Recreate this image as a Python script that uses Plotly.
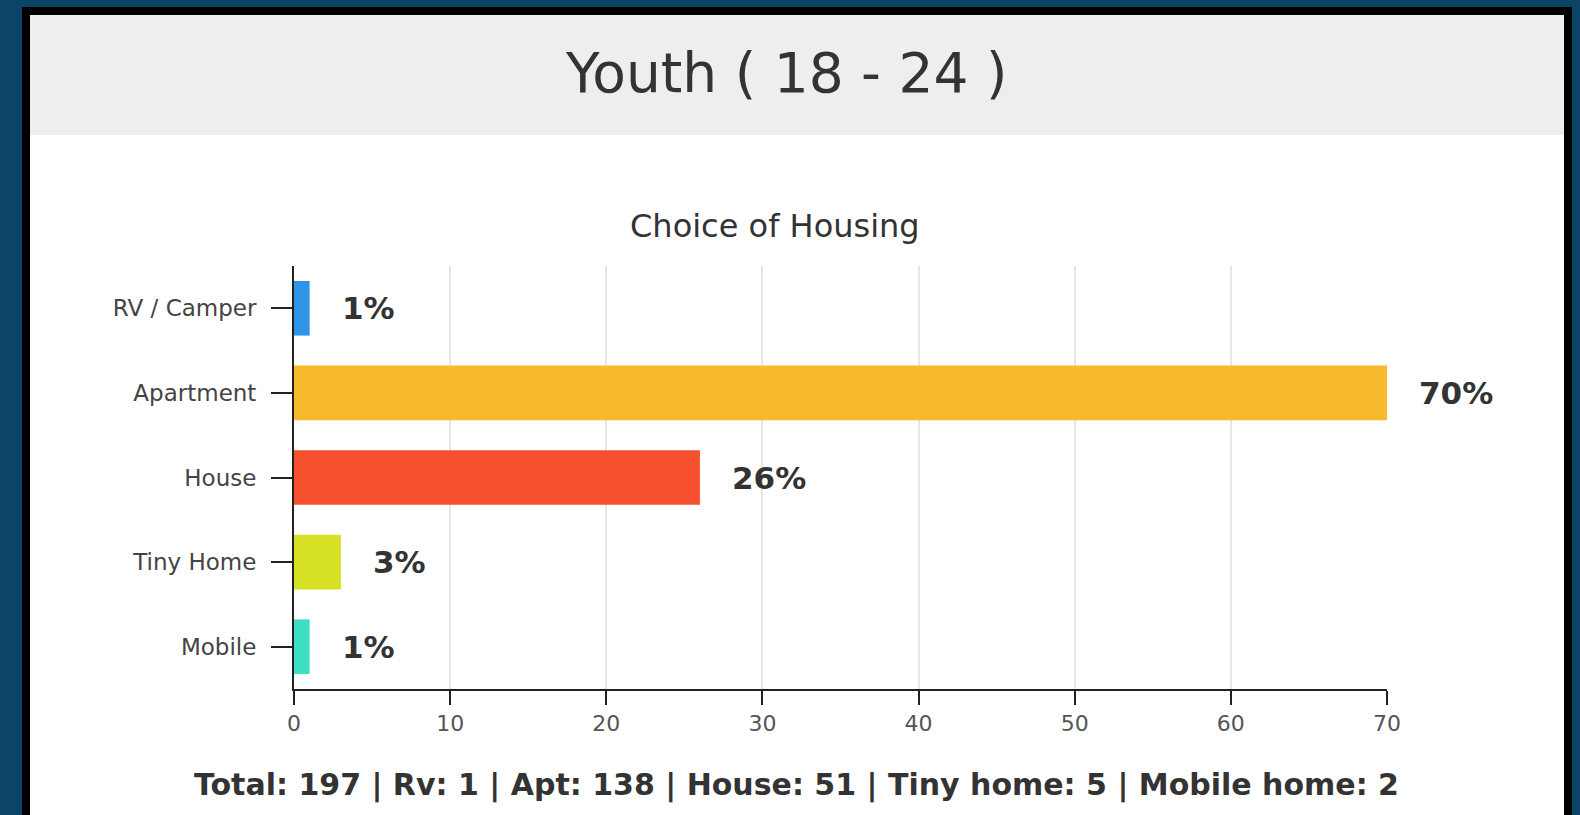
import plotly.graph_objects as go

# ---- data ----
categories = ["RV / Camper", "Apartment", "House", "Tiny Home", "Mobile"]
values = [1, 70, 26, 3, 1]
pct_labels = ["1%", "70%", "26%", "3%", "1%"]
bar_colors = ["#2f94e8", "#f6ba2c", "#f7502e", "#d5e122", "#3ddfc3"]
count_names = ["Total", "Rv", "Apt", "House", "Tiny home", "Mobile home"]
count_values = [197, 1, 138, 51, 5, 2]
x_ticks = [0, 10, 20, 30, 40, 50, 60, 70]

# ---- layout geometry (pixels) ----
W, H = 1580, 815
L, R, T, B = 294, 1387, 266, 689


def px(x):
    return (x - L) / (R - L)


def py(y):
    return (B - y) / (B - T)


fig = go.Figure()
fig.add_trace(go.Bar(
    y=categories, x=values, orientation="h",
    marker=dict(color=bar_colors, line=dict(width=0)),
    hoverinfo="skip", width=0.645,
))

annotations = []
for c, v, t in zip(categories, values, pct_labels):
    annotations.append(dict(
        x=v, y=c, xref="x", yref="y", text=t, showarrow=False,
        xanchor="left", yanchor="middle", xshift=30,
        font=dict(family="DejaVu Sans", size=31, color="#333333", weight="bold"),
    ))

annotations.append(dict(
    x=px(786), y=py(73), xref="paper", yref="paper", text="Youth ( 18 - 24 )",
    showarrow=False, xanchor="center", yanchor="middle",
    font=dict(family="DejaVu Sans", size=55, color="#333333"),
))
annotations.append(dict(
    x=px(775), y=py(226), xref="paper", yref="paper", text="Choice of Housing",
    showarrow=False, xanchor="center", yanchor="middle",
    font=dict(family="DejaVu Sans", size=32, color="#333333"),
))
bottom_text = " | ".join(f"{n}: {v}" for n, v in zip(count_names, count_values))
annotations.append(dict(
    x=px(796), y=py(785), xref="paper", yref="paper", text=bottom_text,
    showarrow=False, xanchor="center", yanchor="middle",
    font=dict(family="DejaVu Sans", size=30, color="#333333", weight="bold"),
))

shapes = [
    dict(type="rect", xref="paper", yref="paper", layer="below",
         x0=px(22), x1=px(1572), y0=py(840), y1=py(7),
         fillcolor="#000000", line=dict(width=0)),
    dict(type="rect", xref="paper", yref="paper", layer="below",
         x0=px(30), x1=px(1564), y0=py(840), y1=py(135),
         fillcolor="#ffffff", line=dict(width=0)),
    dict(type="rect", xref="paper", yref="paper", layer="below",
         x0=px(30), x1=px(1564), y0=py(135), y1=py(15),
         fillcolor="#eeeeee", line=dict(width=0)),
]

fig.update_layout(
    width=W, height=H,
    margin=dict(l=L, r=W - R, t=T, b=H - B, pad=0),
    paper_bgcolor="#0a4567",
    plot_bgcolor="#ffffff",
    showlegend=False,
    bargap=0.355,
    annotations=annotations,
    shapes=shapes,
    xaxis=dict(
        range=[0, 70], tickvals=x_ticks, ticktext=[str(v) for v in x_ticks],
        showgrid=True, gridcolor="#e6e6e6", gridwidth=2,
        zeroline=False, showline=True, linecolor="#222222", linewidth=2,
        ticks="outside", ticklen=14, tickwidth=2, tickcolor="#222222",
        tickfont=dict(family="DejaVu Sans", size=22, color="#555555"),
        fixedrange=True,
    ),
    yaxis=dict(
        categoryorder="array", categoryarray=categories,
        range=[4.5, -0.5],
        showgrid=False, zeroline=False, showline=True,
        linecolor="#222222", linewidth=2,
        ticks="outside", ticklen=21, tickwidth=2, tickcolor="#222222",
        ticklabelstandoff=10,
        tickfont=dict(family="DejaVu Sans", size=23, color="#444444"),
        fixedrange=True,
    ),
)

fig.write_html(
    "out.html",
    config={"displayModeBar": False},
    post_script="document.body.style.margin='0';document.body.style.overflow='hidden';"
                "document.documentElement.style.background='#0a4567';",
)
